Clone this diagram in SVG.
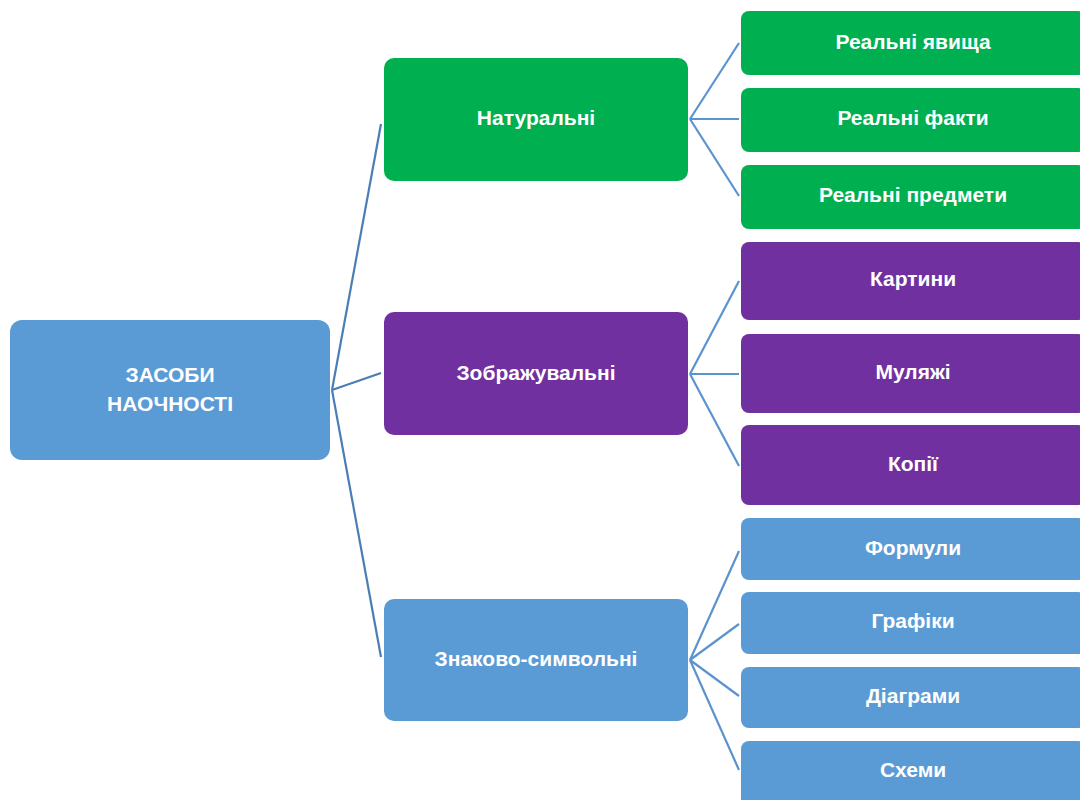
<svg xmlns="http://www.w3.org/2000/svg" width="1080" height="800" viewBox="0 0 1080 800">
<style>
.g{fill:#00B050}.p{fill:#7030A0}.b{fill:#5B9BD5}
text{font-family:"Liberation Sans",Arial,sans-serif;font-weight:bold;font-size:21px;fill:#fff;text-anchor:middle;dominant-baseline:central}
.c line{stroke:#5B93CF;stroke-width:2.2}
.c .r{stroke:#4A7EB5}
</style>
<rect width="1080" height="800" fill="#fff"/>
<g class="c" id="connectors">
<line class="r" x1="332" y1="390" x2="381" y2="124"/>
<line class="r" x1="332" y1="390" x2="381" y2="373"/>
<line class="r" x1="332" y1="390" x2="381" y2="657"/>
<line x1="690" y1="119" x2="739" y2="43"/>
<line x1="690" y1="119" x2="739" y2="119"/>
<line x1="690" y1="119" x2="739" y2="196"/>
<line x1="690" y1="374" x2="739" y2="281"/>
<line x1="690" y1="374" x2="739" y2="374"/>
<line x1="690" y1="374" x2="739" y2="466"/>
<line x1="690" y1="660" x2="739" y2="551"/>
<line x1="690" y1="660" x2="739" y2="624"/>
<line x1="690" y1="660" x2="739" y2="696"/>
<line x1="690" y1="660" x2="739" y2="770"/>
</g>
<g id="root"><rect class="b" x="10" y="320" width="320" height="140" rx="12"/><text x="170" y="374">ЗАСОБИ</text><text x="170" y="403">НАОЧНОСТІ</text></g>
<g id="n1"><rect class="g" x="384" y="58" width="304" height="123" rx="10"/><text x="536" y="117.500">Натуральні</text></g>
<g id="n2"><rect class="p" x="384" y="312" width="304" height="123" rx="10"/><text x="536" y="372">Зображувальні</text></g>
<g id="n3"><rect class="b" x="384" y="599" width="304" height="122" rx="10"/><text x="536" y="658.500">Знаково-символьні</text></g>
<g id="g1"><rect class="g" x="741" y="11" width="345" height="64" rx="8"/><text x="913" y="41.500">Реальні явища</text></g>
<g id="g2"><rect class="g" x="741" y="88" width="345" height="64" rx="8"/><text x="913" y="117.500">Реальні факти</text></g>
<g id="g3"><rect class="g" x="741" y="165" width="345" height="64" rx="8"/><text x="913" y="194.500">Реальні предмети</text></g>
<g id="p1"><rect class="p" x="741" y="242" width="345" height="78" rx="8"/><text x="913" y="278.500">Картини</text></g>
<g id="p2"><rect class="p" x="741" y="334" width="345" height="79" rx="8"/><text x="913" y="371.500">Муляжі</text></g>
<g id="p3"><rect class="p" x="741" y="425" width="345" height="80" rx="8"/><text x="913" y="463.500">Копії</text></g>
<g id="b1"><rect class="b" x="741" y="518" width="345" height="62" rx="8"/><text x="913" y="547.500">Формули</text></g>
<g id="b2"><rect class="b" x="741" y="592" width="345" height="62" rx="8"/><text x="913" y="620.500">Графіки</text></g>
<g id="b3"><rect class="b" x="741" y="667" width="345" height="61" rx="8"/><text x="913" y="695.500">Діаграми</text></g>
<g id="b4"><rect class="b" x="741" y="741" width="345" height="70" rx="8"/><text x="913" y="769.500">Схеми</text></g>
</svg>
